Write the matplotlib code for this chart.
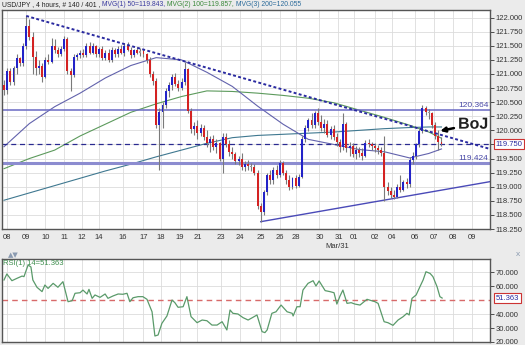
import matplotlib
matplotlib.use("Agg")
import matplotlib.pyplot as plt
import matplotlib.patheffects as pe
import numpy as np

plt.rcParams['font.family'] = ['Liberation Sans', 'DejaVu Sans']

# 4 hour USD/JPY candles
opens = [120.80, 120.72, 121.05, 120.85, 121.10, 121.28, 121.20, 121.50, 121.85, 121.65,
         121.30, 121.10, 121.15, 120.95, 121.25, 121.22, 121.50, 121.42, 121.35, 121.45,
         121.62, 121.05, 120.98, 121.30, 121.33, 121.38, 121.33, 121.50, 121.38, 121.50,
         121.35, 121.45, 121.28, 121.38, 121.25, 121.42, 121.35, 121.45, 121.38, 121.50,
         121.42, 121.33, 121.42, 121.38, 121.40, 121.35, 121.25, 121.00, 120.88, 120.10,
         120.32, 120.45, 120.70, 120.80, 120.95, 120.82, 120.75, 120.85, 121.08, 120.35,
         120.02, 120.08, 119.95, 120.05, 119.88, 119.78, 119.85, 119.70, 119.78, 119.50,
         119.88, 119.75, 119.62, 119.58, 119.45, 119.50, 119.35, 119.40, 119.36, 119.35,
         119.25, 118.65, 118.55, 118.90, 119.20, 119.12, 119.30, 119.20, 119.42, 119.25,
         119.12, 119.00, 119.15, 119.02, 119.18, 119.85, 120.05, 120.18, 120.10, 120.30,
         120.15, 120.05, 120.12, 119.92, 120.02, 119.88, 119.80, 119.70, 120.12, 119.68,
         119.72, 119.58, 119.65, 119.60, 119.55, 119.78, 119.75, 119.72, 119.68, 119.65,
         119.60, 119.00, 118.92, 118.85, 118.82, 119.00, 118.95, 119.08, 119.05, 119.48,
         119.55, 119.75, 119.98, 120.40, 120.32, 120.30, 120.10, 119.90, 119.80]
highs = [120.90, 121.10, 121.10, 121.15, 121.35, 121.30, 121.55, 122.03, 121.98, 121.75,
         121.40, 121.25, 121.20, 121.30, 121.35, 121.64, 121.62, 121.48, 121.50, 121.68,
         121.66, 121.10, 121.35, 121.38, 121.42, 121.45, 121.55, 121.56, 121.55, 121.52,
         121.48, 121.50, 121.42, 121.45, 121.48, 121.46, 121.50, 121.52, 121.55, 121.56,
         121.48, 121.45, 121.48, 121.46, 121.45, 121.38, 121.30, 121.05, 120.92, 120.40,
         120.50, 120.75, 120.85, 121.00, 121.02, 120.90, 120.92, 121.22, 121.10, 120.40,
         120.15, 120.18, 120.12, 120.10, 120.00, 119.90, 119.92, 119.85, 119.80, 119.95,
         119.95, 119.82, 119.70, 119.62, 119.55, 119.60, 119.45, 119.48, 119.42, 119.40,
         119.30, 118.72, 118.95, 119.25, 119.30, 119.35, 119.38, 119.48, 119.46, 119.30,
         119.20, 119.18, 119.20, 119.22, 119.90, 120.10, 120.22, 120.30, 120.35, 120.40,
         120.28, 120.20, 120.18, 120.08, 120.10, 119.95, 119.85, 120.30, 120.15, 119.80,
         119.78, 119.72, 119.70, 119.68, 119.82, 119.85, 119.80, 119.78, 119.74, 119.70,
         119.90, 119.08, 119.00, 118.95, 119.05, 119.20, 119.12, 119.15, 119.52, 119.62,
         119.78, 120.02, 120.45, 120.43, 120.38, 120.33, 120.15, 120.00, 119.88]
lows = [120.62, 120.65, 120.80, 120.80, 121.00, 121.15, 121.15, 121.45, 121.60, 121.00,
        120.98, 121.00, 120.85, 120.92, 121.18, 121.20, 121.38, 121.30, 121.32, 121.40,
        121.00, 120.69, 120.95, 121.25, 121.28, 121.30, 121.30, 121.35, 121.35, 121.30,
        121.30, 121.25, 121.25, 121.22, 121.22, 121.30, 121.30, 121.35, 121.32, 121.40,
        121.28, 121.30, 121.35, 121.32, 121.30, 121.20, 120.95, 120.80, 120.05, 119.30,
        120.05, 120.40, 120.60, 120.72, 120.78, 120.70, 120.72, 120.80, 120.30, 119.95,
        119.92, 119.85, 119.90, 119.82, 119.70, 119.62, 119.65, 119.60, 119.45, 119.25,
        119.70, 119.55, 119.50, 119.40, 119.38, 119.30, 119.28, 119.30, 119.28, 119.20,
        118.60, 118.38, 118.50, 118.85, 119.05, 119.05, 119.15, 119.18, 119.20, 119.05,
        118.95, 118.96, 118.98, 119.00, 119.15, 119.80, 119.98, 120.05, 120.05, 120.10,
        119.98, 119.95, 119.88, 119.85, 119.82, 119.72, 119.62, 119.65, 119.62, 119.55,
        119.52, 119.50, 119.52, 119.48, 119.52, 119.70, 119.65, 119.62, 119.58, 119.55,
        118.75, 118.85, 118.80, 118.78, 118.80, 118.90, 118.92, 118.98, 119.00, 119.40,
        119.50, 119.70, 119.95, 120.28, 120.20, 120.05, 119.85, 119.66, 119.72]
closes = [120.72, 121.05, 120.85, 121.10, 121.28, 121.20, 121.50, 121.85, 121.65, 121.30,
          121.10, 121.15, 120.95, 121.25, 121.22, 121.50, 121.42, 121.35, 121.45, 121.62,
          121.05, 120.98, 121.30, 121.33, 121.38, 121.33, 121.50, 121.38, 121.50, 121.35,
          121.45, 121.28, 121.38, 121.25, 121.42, 121.35, 121.45, 121.38, 121.50, 121.42,
          121.33, 121.42, 121.38, 121.40, 121.35, 121.25, 121.00, 120.88, 120.10, 120.32,
          120.45, 120.70, 120.80, 120.95, 120.82, 120.75, 120.85, 121.08, 120.35, 120.02,
          120.08, 119.95, 120.05, 119.88, 119.78, 119.85, 119.70, 119.78, 119.50, 119.88,
          119.75, 119.62, 119.58, 119.45, 119.50, 119.35, 119.40, 119.36, 119.35, 119.25,
          118.65, 118.55, 118.90, 119.20, 119.12, 119.30, 119.20, 119.42, 119.25, 119.12,
          119.00, 119.15, 119.02, 119.18, 119.85, 120.05, 120.18, 120.10, 120.30, 120.15,
          120.05, 120.12, 119.92, 120.02, 119.88, 119.80, 119.70, 120.12, 119.68, 119.72,
          119.58, 119.65, 119.60, 119.55, 119.78, 119.75, 119.72, 119.68, 119.65, 119.60,
          119.00, 118.92, 118.85, 118.82, 119.00, 118.95, 119.08, 119.05, 119.48, 119.55,
          119.75, 119.98, 120.40, 120.32, 120.30, 120.10, 119.90, 119.80, 119.75]

# day labels on the time axis (bar index where each day starts)
day_pos = [1, 7, 13, 19, 24.5, 30, 37.5, 44, 49.5, 55.5, 61, 68.5, 74.5, 81, 87,
           92, 99.5, 105.5, 110.5, 117, 122.5, 129.5, 135.5, 141.5, 147.5]
day_labels = ["08", "09", "10", "11", "12", "14", "16", "17", "18", "19", "21", "23",
              "24", "25", "26", "28", "30", "31", "01", "02", "04", "06", "07", "08", "09"]

# moving averages
ma_idx = [0, 8, 16, 24, 32, 40, 48, 56, 64, 72, 80, 88, 96, 104, 112, 120, 128, 134, 138]
ma50 = [119.71, 120.12, 120.42, 120.66, 120.93, 121.15, 121.29, 121.25, 121.03, 120.78,
        120.43, 120.11, 119.84, 119.75, 119.66, 119.62, 119.51, 119.59, 119.67]
ma100 = [119.32, 119.50, 119.65, 119.90, 120.11, 120.32, 120.47, 120.60, 120.70, 120.69,
         120.66, 120.62, 120.57, 120.49, 120.36, 120.23, 120.09, 119.97, 119.86]
ma200 = [118.76, 118.89, 119.02, 119.15, 119.28, 119.40, 119.53, 119.65, 119.77, 119.87,
         119.91, 119.93, 119.95, 119.97, 120.00, 120.03, 120.05, 120.06, 120.06]

# trend lines (bar index, price)
trend_x = [7, 153.3]
trend_y = [122.03, 119.67]
support_x = [81, 153.3]
support_y = [118.38, 119.09]
resistance = 120.364
support_lvl = 119.424
last_price = 119.750

# RSI(14)
rsi_x = [0, 0.9, 2.5, 4.1, 5.7, 6.3, 7.6, 8.5, 9.1, 10.4, 12.0, 12.9, 13.9, 15.5, 17.0,
         18.6, 20.2, 21.5, 22.4, 24.0, 24.9, 26.2, 26.8, 27.8, 28.7, 30.3, 31.9, 32.8,
         34.4, 36.0, 37.5, 38.8, 39.7, 40.7, 42.3, 43.8, 45.1, 46.7, 47.6, 48.6, 49.8,
         51.4, 53.0, 53.9, 54.9, 56.5, 57.7, 59.0, 60.9, 62.5, 64.0, 65.6, 67.2, 68.8,
         70.3, 71.3, 72.2, 73.8, 75.4, 77.0, 78.5, 79.8, 81.4, 82.3, 83.0, 84.5, 85.8,
         87.4, 89.3, 90.9, 91.2, 92.4, 93.4, 94.3, 95.9, 97.5, 98.4, 99.4, 101.3, 102.8,
         104.1, 105.0, 106.0, 106.9, 108.2, 109.5, 110.7, 112.3, 114.5, 117.0, 118.0,
         119.9, 121.1, 122.7, 124.3, 125.9, 127.1, 127.8, 128.7, 130.0, 131.2, 132.2,
         133.1, 134.4, 135.3, 136.6, 137.5, 138.2]
rsi_y = [64.3, 68.6, 63.8, 65.5, 67.1, 66.7, 75.0, 73.6, 64.3, 59.1, 56.0, 60.7, 58.3,
         61.9, 59.1, 63.1, 48.8, 49.5, 54.8, 55.2, 57.1, 54.3, 57.6, 51.2, 53.6, 51.9,
         54.3, 51.2, 52.9, 54.3, 54.1, 54.8, 48.8, 51.6, 52.4, 52.4, 50.5, 41.6, 24.3,
         25.0, 33.3, 38.6, 50.0, 48.1, 44.8, 45.2, 52.4, 38.1, 33.8, 35.7, 35.2, 32.1,
         32.1, 34.5, 28.6, 42.9, 40.5, 40.0, 37.4, 35.7, 37.6, 39.3, 27.4, 26.7, 28.6,
         40.5, 41.6, 46.4, 41.6, 40.5, 38.6, 45.2, 45.2, 57.1, 61.9, 63.8, 60.0, 63.6,
         56.7, 56.0, 55.2, 47.1, 52.9, 57.1, 47.6, 48.1, 47.1, 46.4, 50.5, 48.8, 47.6,
         34.5, 33.8, 31.9, 35.7, 38.1, 40.5, 39.3, 51.2, 53.6, 59.5, 64.3, 70.2, 69.0,
         66.7, 59.5, 52.4, 51.4]
rsi_last = 51.363

W, H = 525, 345
fig = plt.figure(figsize=(W / 100, H / 100), dpi=100, facecolor="#ebebeb")
ax = fig.add_axes([2 / W, 116 / H, 488 / W, 219 / H])
ax2 = fig.add_axes([2 / W, 3 / H, 488 / W, 83 / H])

grid_c = "#dcdcdc"
for a in (ax, ax2):
    a.set_facecolor("white")
    a.set_xlim(-0.63, 153.3)
    a.set_xticks(day_pos)
    a.grid(True, color=grid_c, lw=0.6)
    a.set_axisbelow(True)
    for s in a.spines.values():
        s.set_color("#555555")
        s.set_linewidth(1)
    a.yaxis.tick_right()
    a.tick_params(axis="y", length=3, width=0.6, pad=1, labelsize=5.5,
                  colors="#333333")

# ---- price panel ----
ax.set_ylim(118.25, 122.135)
yt = np.arange(118.25, 122.01, 0.25)
ax.set_yticks(yt, ["%.3f" % v for v in yt])
ax.set_xticks(day_pos, day_labels)
ax.tick_params(axis="x", length=0, pad=3.5, labelsize=5.5, colors="#333333")

x = np.arange(len(closes))
o = np.array(opens)
c = np.array(closes)
cols = []
for oo, cc in zip(o, c):
    if abs(cc - oo) <= 0.03:
        cols.append("#9a9a9a")
    elif cc > oo:
        cols.append("#2323c8")
    else:
        cols.append("#d42222")
ax.vlines(x, lows, highs, color="#7a7a7a", lw=0.8, zorder=3)
body = np.maximum(np.abs(c - o), 0.012)
ax.bar(x, body, bottom=np.minimum(o, c), width=0.62, color=cols, zorder=4)

ax.plot(ma_idx, ma200, color="#3f7890", lw=0.8, zorder=2)
ax.plot(ma_idx, ma100, color="#5c9a5c", lw=0.8, zorder=2)
ax.plot(ma_idx, ma50, color="#6262ac", lw=0.8, zorder=2)

ax.axhline(resistance, color="#6a6ac4", lw=1.1, zorder=2)
ax.axhline(support_lvl, color="#8c8cd0", lw=2.2, zorder=2)
ax.axhline(last_price, color="#2a2a90", lw=0.9, ls=(0, (4, 3)), zorder=2)
ax.plot(trend_x, trend_y, color="#2a2aa0", lw=1.4, ls=(0, (1.5, 1.2)), zorder=5)
ax.plot(support_x, support_y, color="#4a4ab8", lw=1.0, zorder=2)

ax.text(152.8, resistance + 0.02, "%.3f" % resistance, ha="right", va="bottom",
        color="#4a4aa8", fontsize=6)
ax.text(152.8, support_lvl + 0.02, "%.3f" % support_lvl, ha="right", va="bottom",
        color="#4a4aa8", fontsize=6)
ax.text(1.012, last_price, "%.3f" % last_price, transform=ax.get_yaxis_transform(),
        ha="left", va="center", color="#2a2aa0", fontsize=5.5, clip_on=False, zorder=10,
        bbox=dict(boxstyle="square,pad=0.2", fc="white", ec="#cc3333", lw=0.8))

ax.annotate("BoJ", xy=(137.6, 119.99), xytext=(148, 120.11), fontsize=11.5,
            fontweight="bold", color="#202020", ha="center", va="center", zorder=11,
            path_effects=[pe.withStroke(linewidth=2, foreground="white")],
            arrowprops=dict(arrowstyle="-|>", color="black", lw=1.8, mutation_scale=7,
                            shrinkA=1, shrinkB=0))

fig.text(337 / W, 1 - 247 / H, "Mar/31", ha="center", va="center", fontsize=5.5,
         color="#333333")
fig.text(8 / W, 1 - 255 / H, "\u25b2\u25bc", ha="left", va="center", fontsize=5,
         color="#8a9ab0", family="DejaVu Sans")
fig.text(518 / W, 1 - 255 / H, "x", ha="center", va="center", fontsize=6,
         color="#8a9ab0")

# ---- RSI panel ----
ax2.set_ylim(20, 79.3)
rt = [20, 30, 40, 60, 70]
ax2.set_yticks(rt, ["%.3f" % v for v in rt])
ax2.tick_params(axis="x", length=0, labelbottom=False)
ax2.axhline(50, color="#d86a6a", lw=1, ls=(0, (4, 3)))
ax2.plot(rsi_x, rsi_y, color="#5a9a6a", lw=0.9, zorder=3)
ax2.text(0.003, 0.985, "RSI(1) 14=%.3f" % rsi_last, transform=ax2.transAxes,
         ha="left", va="top", color="#3e8e4e", fontsize=5.5)
ax2.text(1.012, rsi_last, "%.3f" % rsi_last, transform=ax2.get_yaxis_transform(),
         ha="left", va="center", color="#2a2aa0", fontsize=5.5, clip_on=False, zorder=10,
         bbox=dict(boxstyle="square,pad=0.2", fc="white", ec="#cc3333", lw=0.8))

# multi-coloured header
title_parts = [("USD/JPY , 4 hours, # 140 / 401 , ", "#222222"),
               ("MVG(1) 50=119.843, ", "#3c3ca0"),
               ("MVG(2) 100=119.857, ", "#3c8a3c"),
               ("MVG(3) 200=120.055", "#2a6a9a")]
fig.canvas.draw()
r = fig.canvas.get_renderer()
tx = 2 / W
for s, col in title_parts:
    t = fig.text(tx, 1 - 5 / H, s, color=col, fontsize=4.9, ha="left", va="center")
    bb = t.get_window_extent(renderer=r)
    tx = bb.x1 / fig.bbox.width

fig.savefig("out.png", dpi=100, facecolor=fig.get_facecolor())
